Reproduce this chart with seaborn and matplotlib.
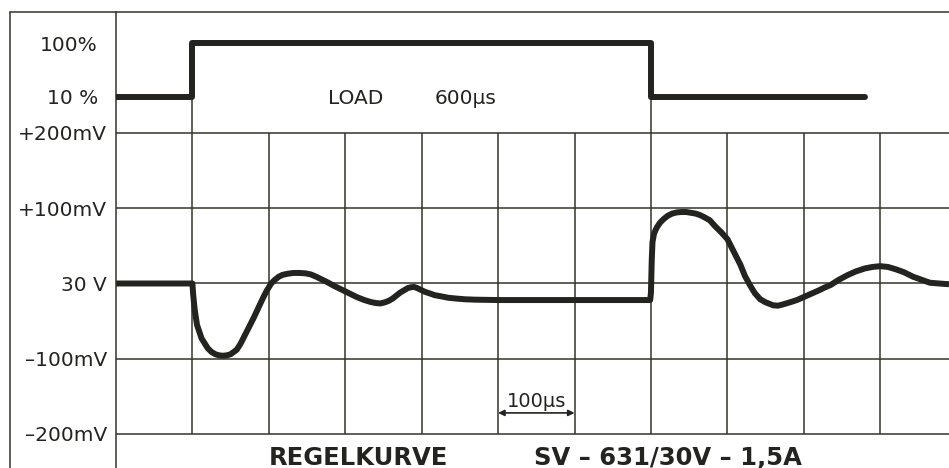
import numpy as np
import pandas as pd
import seaborn as sns
import matplotlib.pyplot as plt
from matplotlib.lines import Line2D

# time axis in microseconds, deviation from 30 V in millivolts
time_us = [0, 100, 101, 103, 106, 112, 120, 125, 130, 135, 140, 145, 150, 158,
           163, 168, 174, 180, 186, 192, 197, 203, 208, 213, 218, 225, 232, 240,
           248, 255, 262, 268, 276, 285, 295, 305, 315, 325, 333, 340, 346, 352,
           357, 362, 367, 372, 377, 382, 386, 390, 394, 398, 404, 410, 417, 425,
           435, 445, 457, 470, 500, 600, 699,
           700, 701, 702, 704, 706, 708, 712, 717, 722, 728, 734, 740, 746, 752,
           758, 764, 770, 777, 784, 792, 800, 808, 817, 823, 830, 836, 843, 850,
           860, 866, 872, 882, 891, 900, 910, 920, 927, 935, 946, 957, 968, 980,
           990, 1000, 1010, 1020, 1031, 1043, 1054, 1065, 1077, 1090]
dev_mv = [0, 0, -15, -35, -55, -73, -86, -91, -94, -95.5, -96, -95.5, -94, -88,
          -80, -70, -58, -46, -33, -20, -10, 0, 5, 9, 11.5, 13, 14, 14,
          13.5, 12, 9, 6, 2, -3, -8, -13, -18, -22, -24.5, -26, -26.5, -25,
          -23, -20, -16, -12, -9, -6, -5, -4.6, -6, -8, -11, -13, -15.5, -17,
          -19, -20, -21, -21.5, -22, -22, -22,
          -12, 30, 55, 66, 71, 75, 81, 86, 90, 93, 94.5, 95, 95, 94,
          93, 91, 88, 84, 76, 68, 59, 43, 25, 10, -3, -13, -21, -25,
          -29, -29.5, -28, -25, -22, -18, -13.5, -9, -5.5, -2, 5, 11, 16, 20,
          22, 23, 22, 19, 15, 9, 5, 1, 0, -1]

# load step (percent)
load_t = [0, 100, 700, 980]
load_pct = [10, 100, 10, 10]

mv_ticks = [200, 100, 0, -100, -200]
mv_labels = ['+200mV', '+100mV', '30 V', '\u2013100mV', '\u2013200mV']
load_ticks = [100, 10]
load_labels = ['100%', '10 %']
grid_t = [100, 200, 300, 400, 500, 600, 700, 800, 900, 1000]

INK = '#232320'
GRID = '#34332a'

sns.set_theme(style='white')
plt.rcParams['font.family'] = ['DejaVu Sans']

W, H = 949, 468
fig = plt.figure(figsize=(W / 100, H / 100), dpi=100)
fig.patch.set_facecolor('white')

ax = fig.add_axes([116 / W, 0, (W - 116) / W, (H - 12) / H])
ax.set_xlim(0, 1090)
ax.set_ylim(-245.2, 360.8)
ax.set_facecolor('none')

# grid
ax.hlines(mv_ticks, 0, 1090, color=GRID, lw=1.1)
ax.vlines(grid_t, -200, 200, color=GRID, lw=1.1)
# thin marks up to the load level at the switching instants
LOAD_BASE_MV = 248.0
ax.vlines([load_t[1], load_t[2]], 200, LOAD_BASE_MV, color=GRID, lw=1.1)

df = pd.DataFrame({'t': time_us, 'mv': dev_mv})
sns.lineplot(data=df, x='t', y='mv', sort=False, ax=ax, color=INK, lw=4.3,
             solid_joinstyle='round', solid_capstyle='butt', estimator=None)

ax.set_yticks(mv_ticks)
ax.set_yticklabels(mv_labels)
ax.set_xticks([])
ax.set_xlabel('')
ax.set_ylabel('')
ax.tick_params(axis='y', length=0, pad=6.5, labelsize=14.5, labelcolor=INK)
for s in ['top', 'right', 'bottom']:
    ax.spines[s].set_visible(False)
ax.spines['left'].set_color(GRID)
ax.spines['left'].set_linewidth(1.1)

# load trace on its own scale
ax2 = ax.twinx()
ax2.set_ylim(-615.2, 153.0)
ldf = pd.DataFrame({'t': load_t, 'pct': load_pct})
sns.lineplot(data=ldf, x='t', y='pct', ax=ax2, color=INK, lw=4.3,
             drawstyle='steps-post', solid_joinstyle='round', estimator=None)
ax2.set_yticks(load_ticks)
ax2.set_yticklabels(load_labels)
ax2.yaxis.set_ticks_position('left')
ax2.yaxis.set_label_position('left')
ax2.tick_params(axis='y', length=0, pad=13, labelsize=14.5, labelcolor=INK)
ax2.set_xlabel('')
ax2.set_ylabel('')
for s in ax2.spines.values():
    s.set_visible(False)

# texts
ax.text(277, 238.5, 'LOAD', ha='left', va='baseline', fontsize=14.5, color=INK)
ax.text(417, 238.5, '600\u00b5s', ha='left', va='baseline', fontsize=14.5, color=INK)
ax.text(550, -164, '100\u00b5s', ha='center', va='baseline', fontsize=14, color=INK)
ax.annotate('', xy=(500, -172), xytext=(600, -172),
            arrowprops=dict(arrowstyle='<|-|>', lw=1.2, color=INK,
                            mutation_scale=9, shrinkA=0, shrinkB=0))
ax.text(317, -241, 'REGELKURVE', ha='center', va='baseline', fontsize=17.5,
        fontweight='bold', color=INK)
ax.text(722, -241, 'SV \u2013 631/30V \u2013 1,5A', ha='center', va='baseline',
        fontsize=17.5, fontweight='bold', color=INK)

# outer frame: left border and top rule
fig.add_artist(Line2D([10 / W, 10 / W], [0, 1 - 12 / H], color=GRID, lw=1.1))
fig.add_artist(Line2D([10 / W, 1], [1 - 12 / H, 1 - 12 / H], color=GRID, lw=1.1))

fig.savefig('out.png', dpi=100)
plt.close(fig)
